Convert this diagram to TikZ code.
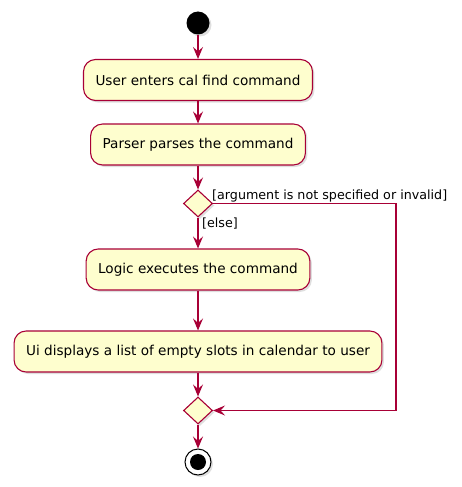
\documentclass[tikz,border=0pt]{standalone}
\usepackage{fontspec}
\setmainfont{DejaVu Sans}
\usetikzlibrary{arrows.meta, shapes.geometric, shadows}

\definecolor{umlred}{HTML}{A80036}
\definecolor{umlfill}{HTML}{FEFECE}

\tikzset{
  action/.style={draw=umlred, fill=umlfill, line width=1.1pt, rounded corners=12pt,
    minimum height=41pt, inner xsep=12pt, font=\fontsize{13.6}{15}\selectfont,
    drop shadow={opacity=0.25, shadow xshift=2pt, shadow yshift=-2pt}},
  choice/.style={draw=umlred, fill=umlfill, line width=1.1pt, diamond, aspect=1.1,
    minimum width=29pt, minimum height=27pt, inner sep=0pt,
    drop shadow={opacity=0.25, shadow xshift=2pt, shadow yshift=-2pt}},
  flow/.style={draw=umlred, line width=1.1pt, -{Stealth[length=12pt, width=10pt, inset=4.5pt]}},
  guard/.style={font=\fontsize{12.7}{14}\selectfont, inner sep=1pt}
}

\begin{document}
\begin{tikzpicture}[x=1pt, y=-1pt]
\useasboundingbox (0, 0) rectangle (462, 487);

% Start
\node[circle, fill=black, minimum size=23pt, inner sep=0pt,
  drop shadow={opacity=0.25, shadow xshift=2pt, shadow yshift=-2pt}] (start) at (198, 23) {};

% Actions
\node[action] (enter) at (198, 80) {User enters cal find command};
\node[action] (parse) at (198, 144.5) {Parser parses the command};
\node[choice] (check) at (198, 203.5) {};
\node[action] (exec) at (198, 269.5) {Logic executes the command};
\node[action] (show) at (198, 351.5) {Ui displays a list of empty slots in calendar to user};
\node[choice] (merge) at (198, 410.5) {};

% End
\node[circle, draw=black, fill=white, line width=1pt, minimum size=26pt, inner sep=0pt,
  drop shadow={opacity=0.25, shadow xshift=2pt, shadow yshift=-2pt}] (stop) at (198, 462) {};
\node[circle, fill=black, minimum size=16pt, inner sep=0pt] at (stop) {};

% Flow
\draw[flow] (start) -- (enter);
\draw[flow] (enter) -- (parse);
\draw[flow] (parse) -- (check);
\draw[flow] (check) -- (exec);
\draw[flow] (exec) -- (show);
\draw[flow] (show) -- (merge);
\draw[flow] (merge) -- (stop);

% Branch
\coordinate (turn) at (396, 203.5);
\draw[flow] (check.east) -- (turn) |- (merge.east);

% Guards
\node[guard, anchor=south west] (gnot) at (211, 203.5) {[argument is not specified or invalid]};
\node[guard, anchor=north west] (gelse) at (201, 217) {[else]};

\end{tikzpicture}
\end{document}
